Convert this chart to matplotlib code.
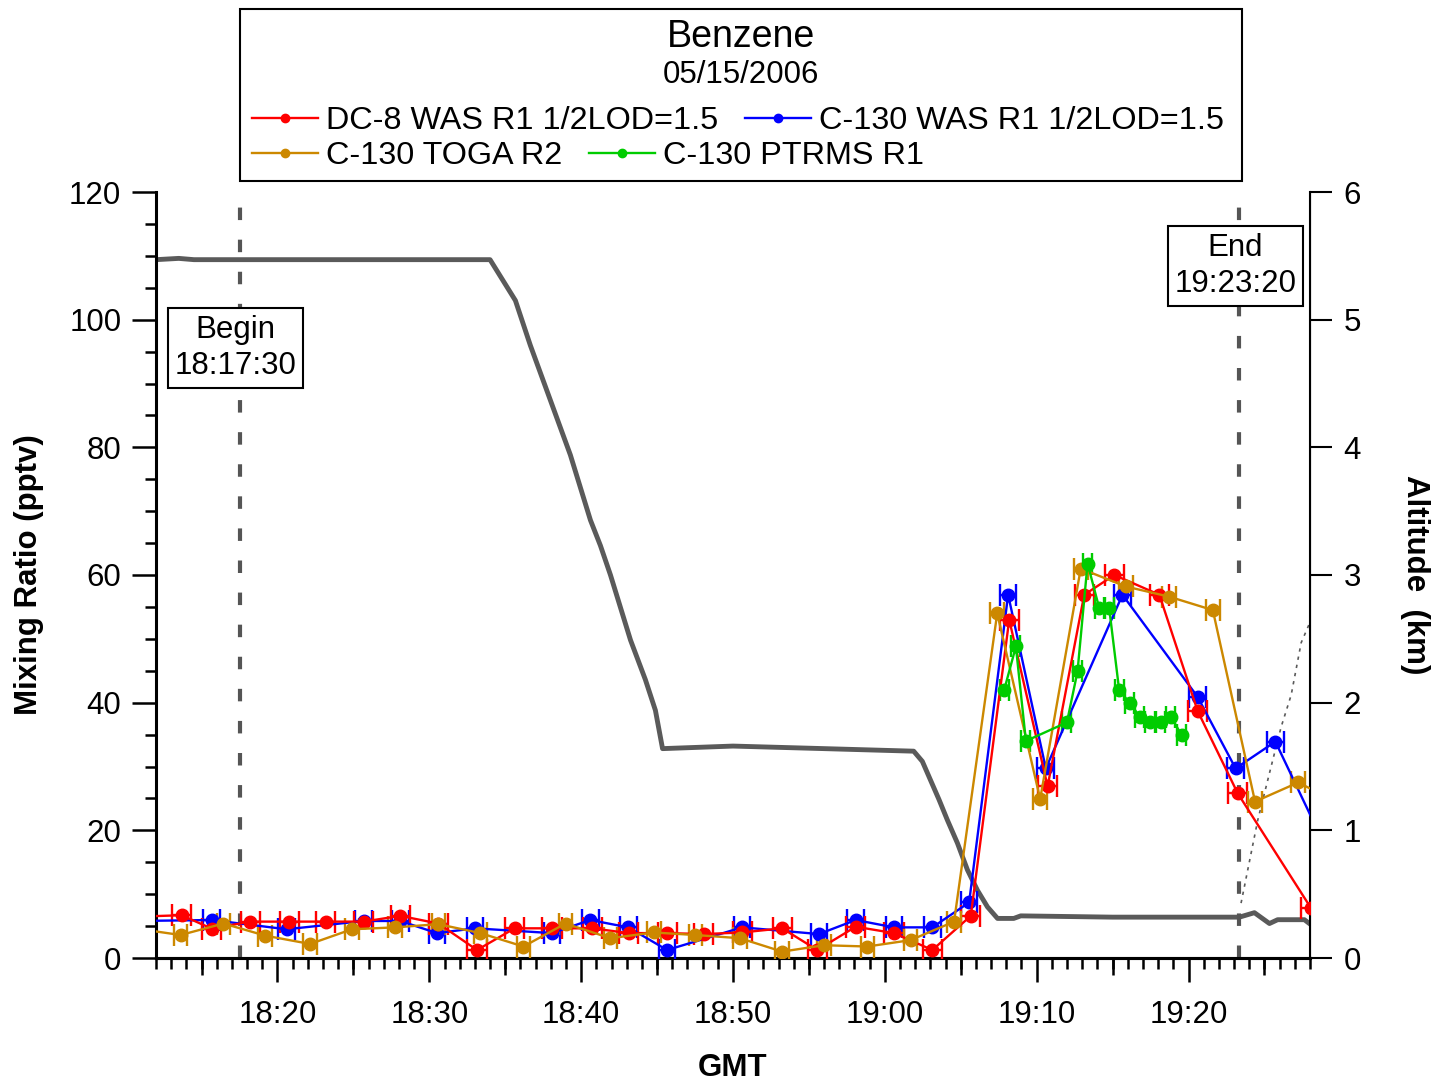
import matplotlib
matplotlib.use("Agg")
import matplotlib.pyplot as plt
from matplotlib.lines import Line2D
from matplotlib.patches import Rectangle
from matplotlib.ticker import MultipleLocator, FuncFormatter

plt.rcParams['font.family'] = ['Liberation Sans', 'DejaVu Sans']

# times are minutes after 18:00 GMT
dc8_t = [11.1, 13.69, 15.67, 18.2, 20.79, 23.19, 25.67, 28.09, 30.6, 33.14, 35.62, 38.08,
         40.72, 43.13, 45.66, 48.08, 50.6, 53.24, 55.55, 58.08, 60.6, 63.13, 65.66,
         68.19, 70.72, 73.13, 75.11, 78.08, 80.6, 83.24, 88.07]
dc8_v = [6.5, 6.7, 4.6, 5.7, 5.7, 5.7, 5.7, 6.6, 5.4, 1.25, 4.65, 4.65,
         4.65, 3.9, 3.9, 3.75, 4.0, 4.65, 1.25, 4.9, 3.9, 1.25, 6.6,
         53.0, 26.9, 56.9, 60.0, 56.9, 38.7, 25.8, 7.8]

c130_t = [10.7, 15.67, 20.6, 25.67, 28.09, 30.5, 33.0, 38.08, 40.6, 43.1, 45.66, 50.6,
          55.66, 58.08, 60.6, 63.13, 65.55, 68.12, 70.6, 75.65, 80.6, 83.1, 85.72, 88.8]
c130_v = [5.8, 5.95, 4.5, 5.8, 5.8, 3.9, 4.65, 3.9, 5.95, 4.8, 1.25, 4.8,
          3.75, 5.95, 4.8, 4.8, 8.7, 56.9, 29.7, 56.9, 40.9, 29.7, 33.9, 18.5]

toga_t = [11.0, 13.62, 16.44, 19.2, 22.15, 24.9, 27.75, 30.6, 33.36, 36.2, 38.97, 41.93,
          44.78, 47.53, 50.45, 53.24, 55.99, 58.85, 61.7, 64.56, 67.4, 70.23, 72.9,
          75.87, 78.73, 81.6, 84.38, 87.23, 90.1]
toga_v = [4.5, 3.6, 5.4, 3.5, 2.2, 4.5, 4.8, 5.3, 3.9, 1.8, 5.4, 3.1,
          4.0, 3.6, 3.1, 1.0, 2.0, 1.8, 2.8, 5.7, 54.0, 24.9, 61.0,
          58.2, 56.6, 54.5, 24.5, 27.5, 24.0]

ptrms_t = [67.86, 68.63, 69.29, 71.99, 72.69, 73.35, 74.11, 74.77, 75.43, 76.14,
           76.8, 77.46, 78.18, 78.84, 79.55]
ptrms_v = [42.0, 48.8, 34.0, 36.9, 44.9, 61.8, 54.9, 54.9, 42.0, 39.9,
           37.8, 37.0, 37.0, 37.8, 34.9]

# C-130 altitude (km)
alt_t = [12.0, 13.5, 14.5, 20.0, 28.0, 34.0, 35.67, 36.65, 37.97, 39.29, 40.61, 41.27,
         41.93, 43.25, 44.23, 44.89, 45.36, 50.0, 56.0, 61.9, 62.47, 63.02, 63.57, 64.12,
         64.78, 65.44, 66.1, 66.76, 67.42, 68.49, 68.95, 75.0, 83.35, 84.34, 85.33,
         85.87, 87.63, 88.07]
alt_km = [5.47, 5.48, 5.47, 5.47, 5.47, 5.47, 5.15, 4.80, 4.37, 3.94, 3.43, 3.23,
          3.00, 2.49, 2.18, 1.94, 1.64, 1.66, 1.64, 1.62, 1.54, 1.39, 1.24, 1.08,
          0.90, 0.69, 0.53, 0.40, 0.31, 0.31, 0.33, 0.32, 0.32, 0.355, 0.27,
          0.30, 0.30, 0.26]

# DC-8 altitude (dotted)
alt2_t = [83.46, 84.56, 85.44, 86.1, 86.76, 87.42, 88.0]
alt2_km = [0.43, 1.08, 1.5, 1.81, 2.06, 2.47, 2.63]

begin_t = 17.5
end_t = 83.333

fig = plt.figure(figsize=(14.35, 10.81), dpi=100)
ax = fig.add_axes([156/1435, 1-958/1081, 1154/1435, 766/1081])
ax2 = ax.twinx()
ax.set_zorder(ax2.get_zorder() + 1)
ax.patch.set_visible(False)

fs = 22.5
lfs = 23.3

# altitude
ax2.plot(alt_t, alt_km, color='#5a5a5a', lw=3.5, zorder=1)
ax2.plot(alt2_t, alt2_km, color='#5a5a5a', lw=1.2, ls=(0, (2, 3)), zorder=1)
ax2.set_ylim(0, 6)
ax2.set_yticks(range(0, 7))
ax2.tick_params(axis='y', direction='out', length=16, width=1.5, labelsize=fs, pad=8)
ax2.set_ylabel('Altitude  (km)', fontsize=fs, fontweight='bold', rotation=-90, labelpad=50)

# begin / end markers
for tt in (begin_t, end_t):
    ax.axvline(tt, color='#555555', lw=3, ls=(0, (3, 4.7)), zorder=1)

box = dict(boxstyle='square,pad=0.22', fc='white', ec='black', lw=1.5)
ax.text(17.24, 95.6, 'Begin\n18:17:30', ha='center', va='center', fontsize=fs,
        linespacing=1.25, bbox=box, zorder=3)
ax.text(83.09, 108.4, 'End\n19:23:20', ha='center', va='center', fontsize=fs,
        linespacing=1.25, bbox=box, zorder=3)

series = [
    (c130_t, c130_v, '#0000ff', 0.55),
    (dc8_t, dc8_v, '#ff0000', 0.63),
    (toga_t, toga_v, '#cc8800', 0.45),
    (ptrms_t, ptrms_v, '#00cc00', 0.3),
]
for t, v, c, xe in series:
    ax.errorbar(t, v, xerr=xe, fmt='-o', color=c, ms=9, lw=1.7, elinewidth=1.7,
                capsize=8, capthick=1.7, zorder=4)

ax.set_xlim(12, 88)
ax.set_ylim(0, 120)
ax.xaxis.set_major_locator(MultipleLocator(10))
ax.xaxis.set_minor_locator(MultipleLocator(1))
ax.xaxis.set_major_formatter(FuncFormatter(lambda x, p: '%d:%02d' % (18 + int(x) // 60, int(x) % 60)))
ax.yaxis.set_major_locator(MultipleLocator(20))
ax.yaxis.set_minor_locator(MultipleLocator(5))
ax.tick_params(which='major', direction='out', length=17, width=1.8, labelsize=fs)
ax.tick_params(which='minor', direction='out', length=8, width=1.8)
ax.tick_params(axis='x', which='major', pad=13)
ax.tick_params(axis='y', which='major', pad=8)

# 5 minute ticks
sec = ax.secondary_xaxis('bottom')
sec.set_xticks([15, 25, 35, 45, 55, 65, 75, 85])
sec.tick_params(direction='out', length=12, width=1.8, labelbottom=False)
sec.spines['bottom'].set_linewidth(2.2)

ax.set_xlabel('GMT', fontsize=fs, fontweight='bold', labelpad=17)
ax.set_ylabel('Mixing Ratio (pptv)', fontsize=fs, fontweight='bold', labelpad=18)

for a in (ax, ax2):
    a.spines['top'].set_visible(False)
ax.spines['left'].set_linewidth(2.2)
ax.spines['bottom'].set_linewidth(2.2)
ax2.spines['right'].set_linewidth(1.5)
ax2.spines['left'].set_visible(False)
ax2.spines['bottom'].set_visible(False)

# legend panel
fig.patches.append(Rectangle((240/1435, 1-181/1081), 1002/1435, 172/1081,
                             transform=fig.transFigure, fill=False, ec='black', lw=1.5))
fig.text(741/1435, 1-37/1081, 'Benzene', ha='center', va='center', fontsize=27)
fig.text(741/1435, 1-75/1081, '05/15/2006', ha='center', va='center', fontsize=fs)

h_dc8 = Line2D([], [], color='#ff0000', marker='o', ms=6, lw=1.7)
h_c130 = Line2D([], [], color='#0000ff', marker='o', ms=6, lw=1.7)
h_toga = Line2D([], [], color='#cc8800', marker='o', ms=6, lw=1.7)
h_ptrms = Line2D([], [], color='#00cc00', marker='o', ms=6, lw=1.7)
leg_kw = dict(loc='center left', ncol=2, frameon=False, fontsize=lfs, handlelength=2.05,
              handletextpad=0.25, columnspacing=0.8, borderpad=0, borderaxespad=0)
fig.legend([h_dc8, h_c130], ['DC-8 WAS R1 1/2LOD=1.5', 'C-130 WAS R1 1/2LOD=1.5'],
           bbox_to_anchor=(252/1435, 1-121/1081), **leg_kw)
fig.legend([h_toga, h_ptrms], ['C-130 TOGA R2', 'C-130 PTRMS R1'],
           bbox_to_anchor=(252/1435, 1-156/1081), **leg_kw)

fig.savefig('out.png', dpi=100)
